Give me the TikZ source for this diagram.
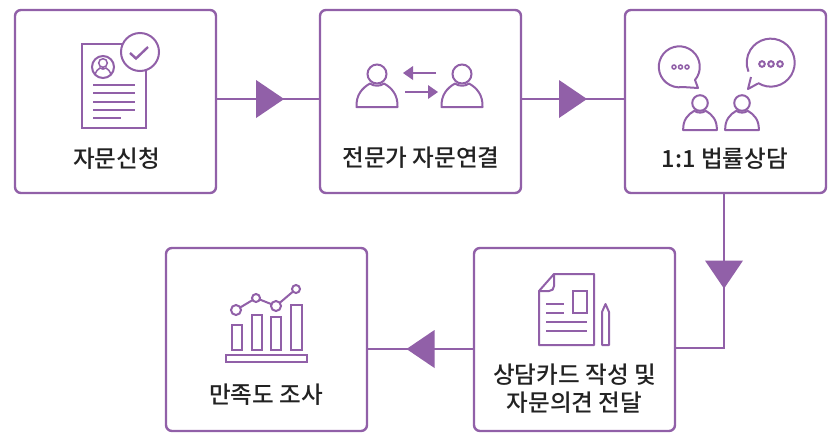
\documentclass[tikz,border=0pt]{standalone}
\usepackage{fontspec}
\setmainfont{Noto Sans CJK KR Medium}
\usetikzlibrary{decorations.markings}
\definecolor{pur}{HTML}{9160A8}
\definecolor{txt}{HTML}{222222}
\tikzset{
  stepbox/.style={draw=pur,line width=2.4pt,rounded corners=6pt,minimum width=201pt,minimum height=183pt,inner sep=0pt,outer sep=0pt},
  lab/.style={text=txt,font=\fontsize{23.6pt}{28pt}\selectfont,align=center,inner sep=0pt},
  conn/.style={draw=pur,line width=2.4pt},
  tri/.style={postaction={decorate},decoration={markings,mark=at position #1 with {\fill[pur] (-14,-19)--(14,0)--(-14,19)--cycle;}}},
  ic/.style={draw=pur,line width=2pt},
  icthin/.style={draw=pur,line width=1.5pt},
  personicon/.pic={
    \draw[ic] (0,0) circle[radius=9.5];
    \draw[ic,line join=round] (-20.5,33) .. controls (-21,21) and (-15,14) .. (-7,9.5) .. controls (-3,12.5) and (3,12.5) .. (7,9.5) .. controls (15,14) and (21,21) .. (20.5,33) -- cycle;
  }
}
\begin{document}
\begin{tikzpicture}[x=1pt,y=-1pt]
\useasboundingbox (0,0) rectangle (834,432);
\fill[white] (0,0) rectangle (834,432);
% boxes
\node[stepbox] (b1) at (115.5,101.5) {};
\node[stepbox] (b2) at (420.5,101.5) {};
\node[stepbox] (b3) at (725.5,101.5) {};
\node[stepbox] (b4) at (574.5,339.5) {};
\node[stepbox] (b5) at (266.5,339.5) {};
% labels
\node[lab] (l1) at (116.5,158.5) {자문신청};
\node[lab] (l2) at (421,157.5) {전문가 자문연결};
\node[lab] (l3) at (725,158.5) {1:1 법률상담};
\node[lab] (l4) at (574.5,389) {상담카드 작성 및\\자문의견 전달};
\node[lab] (l5) at (266,395) {만족도 조사};
% connectors
\path[conn,tri=0.52] ([yshift=2.5pt]b1.east) -- ([yshift=2.5pt]b2.west);
\path[conn,tri=0.5] ([yshift=2.5pt]b2.east) -- ([yshift=2.5pt]b3.west);
\path[conn,tri=0.4] ([xshift=-1.5pt]b3.south) |- ([yshift=-8.5pt]b4.east);
\path[conn,tri=0.5] ([yshift=-9.5pt]b4.west) -- ([yshift=-9.5pt]b5.east);
% icon 1: application form
\draw[ic] (122,44) -- (82,44) -- (82,128) -- (146,128) -- (146,70);
\draw[ic] (140,52) circle[radius=19];
\draw[ic,line width=2.4pt] (130,53) -- (136,58.5) -- (148,47);
\draw[ic] (103,67) circle[radius=11];
\draw[icthin] (103,63) circle[radius=4.3];
\draw[icthin] (95,75) .. controls (96,71) and (98,69) .. (100,68) .. controls (102,69.5) and (104,69.5) .. (106,68) .. controls (108,69) and (110,71) .. (111,75);
\foreach \yy in {85,93,102,110} \draw[ic] (93,\yy) -- (135,\yy);
\draw[ic] (93,118) -- (121,118);
% icon 2: two people
\pic at (377,74) {personicon};
\pic at (462,74) {personicon};
\draw[pur,line width=2.4pt] (436,73) -- (410,73);
\fill[pur] (403,73) -- (413,66) -- (413,80) -- cycle;
\draw[pur,line width=2.4pt] (405,92) -- (430,92);
\fill[pur] (438,92) -- (428,85) -- (428,99) -- cycle;
% icon 3: speech bubbles
\draw[ic,line join=round] (695,80) arc[start angle=40,delta angle=-320,radius=20.5] -- (698,88) -- cycle;
\foreach \xx in {674,680.5,687} \draw[icthin] (\xx,67) circle[radius=2];
\draw[ic,line join=round] (758,83) arc[start angle=122,delta angle=-324,radius=24] ;
\draw[ic,line join=round] (758,83.5) -- (748,89) -- (751,77);
\foreach \xx in {762,771,780} \draw[ic] (\xx,64) circle[radius=2.8];
\pic[scale=0.82] at (700,103) {personicon};
\pic[scale=0.82] at (742,103) {personicon};
% icon 4: document and pencil
\draw[ic,line join=round] (554,274) -- (594,274) -- (594,345) -- (539,345) -- (539,291) -- cycle;
\draw[ic,line join=round] (554,274) -- (554,286) .. controls (554,289) and (552,291) .. (549,291) -- (539,291);
\draw[ic] (573,291) rectangle (587,313);
\draw[ic] (546,304) -- (564,304);
\draw[ic] (546,313) -- (564,313);
\draw[ic] (546,322) -- (587,322);
\draw[ic] (546,331) -- (587,331);
\draw[ic,line join=round] (602,345) -- (602,312) -- (605.5,304) -- (609,312) -- (609,345) -- cycle;
% icon 5: chart
\draw[ic] (232,325) rectangle (242,350);
\draw[ic] (252,315) rectangle (262,350);
\draw[ic] (271,317) rectangle (281,350);
\draw[ic] (291,305) rectangle (302,350);
\draw[ic] (226,355) rectangle (307,362);
\draw[ic] (236,310) -- (256,298) -- (276,306) -- (296,289);
\foreach \cx/\cy/\rr in {236/310/5,256/298/4,276/306/5,296/289/4}
  \draw[ic,fill=white] (\cx,\cy) circle[radius=\rr];
\end{tikzpicture}
\end{document}
